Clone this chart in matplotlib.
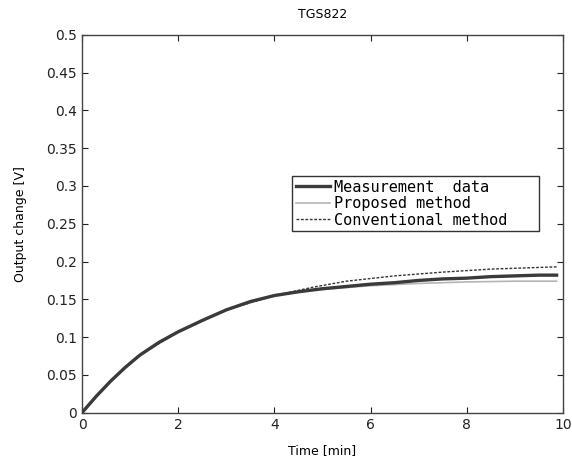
import matplotlib
matplotlib.use('Agg')
import matplotlib.pyplot as plt
import numpy as np

# data
t_meas = [0, 0.3, 0.6, 0.9, 1.2, 1.6, 2.0, 2.5, 3.0, 3.5, 4.0, 4.5, 5.0, 5.5,
          6.0, 6.5, 7.0, 7.5, 8.0, 8.5, 9.0, 9.5, 9.87]
v_meas = [0, 0.022, 0.042, 0.060, 0.076, 0.093, 0.107, 0.122, 0.136, 0.147,
          0.155, 0.160, 0.164, 0.167, 0.170, 0.172, 0.175, 0.177, 0.178,
          0.180, 0.181, 0.182, 0.182]

t_prop = [0, 0.6, 1.2, 2.0, 3.0, 4.0, 4.8, 6.0, 7.0, 8.0, 9.0, 9.87]
v_prop = [0, 0.042, 0.076, 0.107, 0.136, 0.155, 0.162, 0.168, 0.171, 0.173,
          0.174, 0.174]

t_conv = [0, 0.6, 1.2, 2.0, 3.0, 4.0, 4.8, 5.5, 6.5, 7.5, 8.5, 9.87]
v_conv = [0, 0.042, 0.076, 0.107, 0.136, 0.155, 0.166, 0.174, 0.181, 0.186,
          0.190, 0.193]

labels = ['Measurement  data', 'Proposed method', 'Conventional method   ']

fig = plt.figure(figsize=(5.72, 4.59), dpi=100)
ax = fig.add_axes([0.1434, 0.101, 0.8406, 0.823])

l2, = ax.plot(t_prop, v_prop, color='#b5b5b5', lw=1.2, zorder=2)
l3, = ax.plot(t_conv, v_conv, color='#333333', lw=1.0, ls=(0, (2, 1.2)), zorder=2)
l1, = ax.plot(t_meas, v_meas, color='#3a3a3a', lw=2.4, zorder=3)

ax.set_xlim(0, 10)
ax.set_ylim(0, 0.5)
ax.set_xticks([0, 2, 4, 6, 8, 10])
ax.set_yticks(np.arange(0, 0.51, 0.05))
ax.set_yticklabels(['0', '0.05', '0.1', '0.15', '0.2', '0.25', '0.3', '0.35',
                    '0.4', '0.45', '0.5'])
ax.tick_params(direction='in', top=True, right=True, labelsize=10,
               length=4, colors='#222222')
for s in ax.spines.values():
    s.set_color('#444444')
    s.set_linewidth(1.0)

ax.set_title('TGS822', fontsize=9, pad=12)
ax.set_xlabel('Time [min]', fontsize=9, labelpad=9)
ax.set_ylabel('Output change [V]', fontsize=9, labelpad=14)

leg = ax.legend([l1, l2, l3], labels, loc='upper right',
                bbox_to_anchor=(0.95, 0.627), fancybox=False,
                edgecolor='#333333', framealpha=1,
                prop={'family': 'DejaVu Sans Mono', 'size': 11},
                handlelength=2.2, borderpad=0.25, labelspacing=0.1,
                handletextpad=0.3, borderaxespad=0)
leg.get_frame().set_linewidth(1.0)

fig.savefig('out.png', dpi=100)
